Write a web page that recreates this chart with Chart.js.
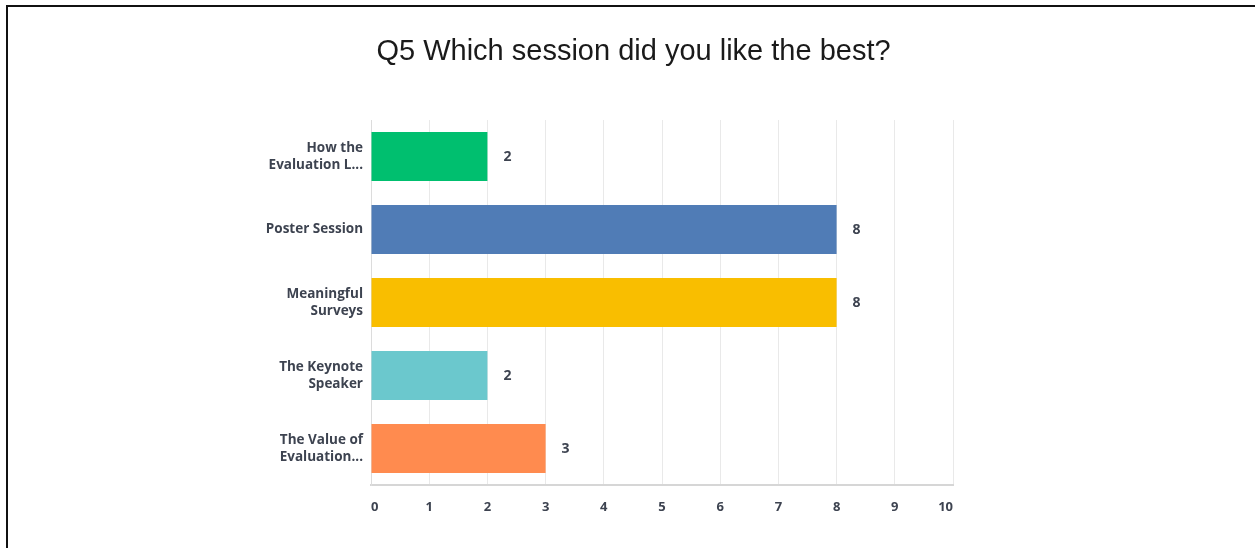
<!DOCTYPE html>
<html>
<head>
<meta charset="utf-8">
<script src="https://cdn.jsdelivr.net/npm/chart.js@4"></script>
<style>
  html, body { margin: 0; padding: 0; background: #fff; overflow: hidden; }
  #frame { position: absolute; left: 6px; top: 5px; width: 1300px; height: 600px; border-top: 2px solid #111; border-left: 2px solid #111; }
  #grafico { position: absolute; left: 0; top: 0; }
</style>
</head>
<body>
<div id="frame"></div>
<canvas id="grafico" width="1255" height="548"></canvas>
<script>
// ======= Dados =======
const sessoes = [
  ['How the', 'Evaluation L...'],
  'Poster Session',
  ['Meaningful', 'Surveys'],
  ['The Keynote', 'Speaker'],
  ['The Value of', 'Evaluation...']
];
const respostas = [2, 8, 8, 2, 3];
const cores = ['#00bf6f', '#507cb6', '#f9be00', '#6bc8cd', '#ff8b4f'];
const titulo = 'Q5 Which session did you like the best?';

const corTexto = '#3d4350';

// ======= Rótulos de valor nas barras =======
const rotulosValor = {
  id: 'rotulosValor',
  afterDatasetsDraw(chart) {
    const ctx = chart.ctx;
    const meta = chart.getDatasetMeta(0);
    ctx.save();
    ctx.font = 'bold 14px "Open Sans", sans-serif';
    ctx.fillStyle = corTexto;
    ctx.textAlign = 'left';
    ctx.textBaseline = 'middle';
    meta.data.forEach((bar, i) => {
      ctx.fillText(String(respostas[i]), bar.x + 16, bar.y + 1);
    });
    ctx.restore();
  }
};

// ======= Título (centralizado na moldura, não na área do gráfico) =======
const tituloCentral = {
  id: 'tituloCentral',
  afterDraw(chart) {
    const ctx = chart.ctx;
    ctx.save();
    ctx.font = '29px "Liberation Sans", Arial, sans-serif';
    ctx.fillStyle = '#1a1a1a';
    ctx.textAlign = 'center';
    ctx.textBaseline = 'middle';
    ctx.fillText(titulo, chart.width / 2 + 6, 52);
    ctx.restore();
  }
};

// ======= Gráfico =======
new Chart(document.getElementById('grafico'), {
  type: 'bar',
  data: {
    labels: sessoes,
    datasets: [{
      data: respostas,
      backgroundColor: cores,
      borderWidth: 0,
      categoryPercentage: 1,
      barPercentage: 0.67
    }]
  },
  options: {
    indexAxis: 'y',
    responsive: false,
    animation: false,
    layout: { padding: { left: 13, right: 302, top: 120, bottom: 0 } },
    plugins: {
      legend: { display: false },
      tooltip: { enabled: false },
      title: { display: false }
    },
    scales: {
      x: {
        min: 0,
        max: 10,
        ticks: {
          stepSize: 1,
          align: 'inner',
          padding: 14,
          color: corTexto,
          font: { family: '"Open Sans", sans-serif', size: 13, weight: 'bold' }
        },
        grid: { color: '#e9e9e9', drawTicks: false },
        border: { color: '#d6d6d6', width: 2 },
        afterFit: s => { s.height = 63; }
      },
      y: {
        ticks: {
          padding: 8,
          color: corTexto,
          font: { family: '"Open Sans", sans-serif', size: 13.5, weight: 'bold', lineHeight: 1.25 }
        },
        grid: { display: false, drawTicks: false },
        border: { color: '#dcdcdc', width: 1 },
        afterFit: s => { s.width = 358; }
      }
    }
  },
  plugins: [rotulosValor, tituloCentral]
});
</script>
</body>
</html>
